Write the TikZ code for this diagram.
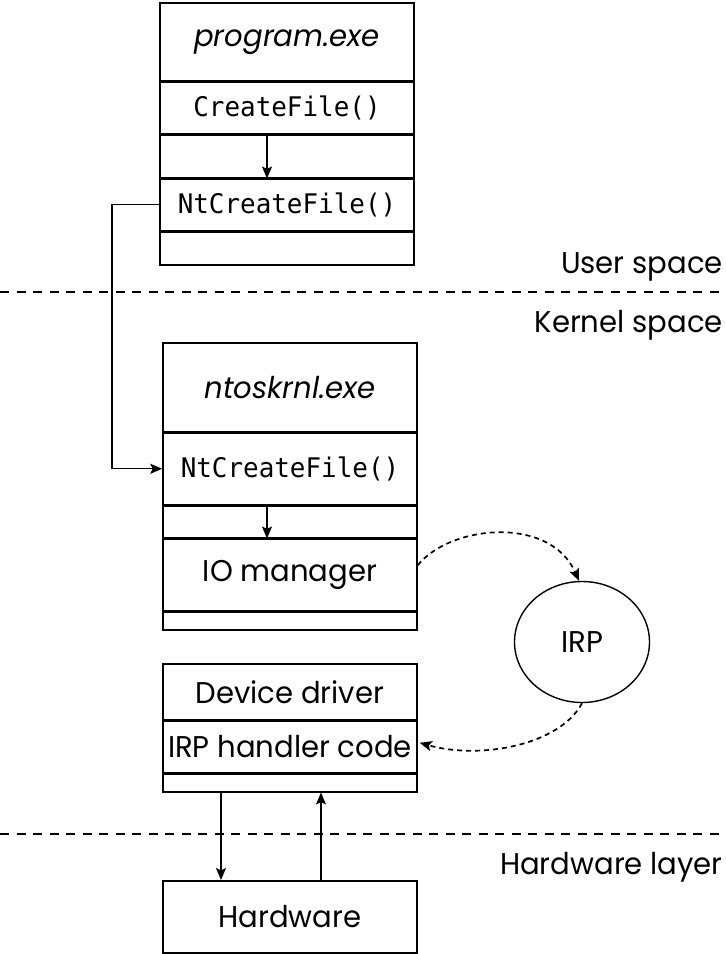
\documentclass[tikz,border=0pt]{standalone}
\usepackage{fontspec}
\setmainfont{Poppins}[FakeStretch=0.97]
\newfontfamily\monof{DejaVu Sans Mono}[FakeStretch=0.96]
\usetikzlibrary{shapes.geometric, arrows.meta}
\tikzset{
  row/.style={draw, line width=1.5pt, minimum width=254pt, inner sep=0pt, anchor=north,
    font=\fontsize{30}{30}\selectfont},
  mrow/.style={row, font=\monof\fontsize{27}{27}\selectfont},
  arr/.style={-{Stealth[length=12pt,width=10pt,inset=2.5pt]}, line width=1.3pt},
  darr/.style={arr, line width=1.7pt, dash pattern=on 5pt off 4pt},
  sepline/.style={line width=1.4pt, dash pattern=on 9pt off 7.5pt},
  lab/.style={anchor=base east, inner sep=0pt, font=\fontsize{30}{30}\selectfont}
}
\begin{document}
\begin{tikzpicture}[x=1pt,y=-1pt]
\useasboundingbox (0,0) rectangle (726,954);
% top box
\node[row, minimum height=78pt] (prog) at (287,2) {\itshape program.exe};
\node[mrow, minimum height=51pt] (cf) at (prog.south) {CreateFile()};
\node[row, minimum height=43pt] (g1) at (cf.south) {};
\node[mrow, minimum height=51pt] (ntc) at (g1.south) {NtCreateFile()};
\node[row, minimum height=33pt] (g2) at (ntc.south) {};
% middle box
\node[row, minimum height=89pt] (ntos) at (290,342) {\itshape ntoskrnl.exe};
\node[mrow, minimum height=71pt] (ntk) at (ntos.south) {NtCreateFile()};
\node[row, minimum height=32pt] (g3) at (ntk.south) {};
\node[row, minimum height=71pt] (io) at (g3.south) {IO manager};
\node[row, minimum height=18pt] (g4) at (io.south) {};
% driver box
\node[row, minimum height=56pt] (dd) at (290,663) {Device driver};
\node[row, minimum height=51pt] (irph) at (dd.south) {IRP handler code};
\node[row, minimum height=18pt] (g5) at (irph.south) {};
% hardware
\node[row, minimum height=72pt] (hw) at (290,880) {Hardware};
% IRP
\node[ellipse, draw, line width=1.4pt, minimum width=135pt, minimum height=121pt, inner sep=0pt,
  font=\fontsize{30}{30}\selectfont] (irp) at (582,642) {IRP};
% separators
\coordinate (s1l) at (0,292); \coordinate (s1r) at (726,292);
\coordinate (s2l) at (0,834); \coordinate (s2r) at (726,834);
\draw[sepline] (s1l) -- (s1r);
\draw[sepline] (s2l) -- (s2r);
% labels
\node[lab] (us) at (723,273) {User space};
\node[lab] (ks) at (723,332) {Kernel space};
\node[lab] (hl) at (723,874) {Hardware layer};
% arrows
\draw[arr] ([xshift=-20pt]cf.south) -- ([xshift=-20pt]ntc.north);
\draw[arr] ([xshift=-23pt]ntk.south) -- ([xshift=-23pt]io.north);
\coordinate (jx) at (112,0);
\draw[arr, line width=1.2pt] (ntc.west) -- (ntc.west -| jx) |- (ntk.west);
\draw[darr] ([yshift=9.5pt]io.east) .. controls (450,525) and (550,515) .. ([xshift=-3pt]irp.north);
\draw[darr] (irp.south) .. controls (560,745) and (480,760) .. ([xshift=2pt,yshift=4pt]irph.east);
\draw[arr] ([xshift=-69pt]g5.south) -- ([xshift=-69pt]hw.north);
\draw[arr] ([xshift=31pt]hw.north) -- ([xshift=31pt]g5.south);
\end{tikzpicture}
\end{document}
